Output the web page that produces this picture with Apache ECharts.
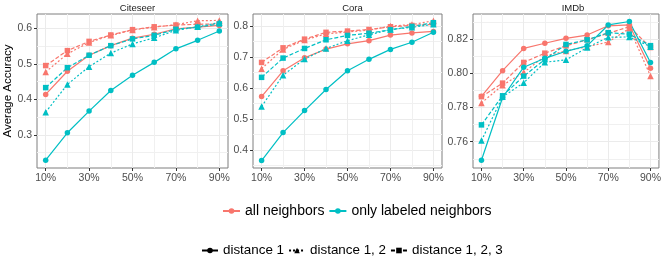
<!DOCTYPE html>
<html>
<head>
<meta charset="utf-8">
<script src="https://cdn.jsdelivr.net/npm/echarts@6/dist/echarts.min.js"></script>
<style>
html,body{margin:0;padding:0;background:#fff;}
#chart{width:664px;height:274px;}
</style>
</head>
<body>
<div id="chart"></div>
<script>
// ---------- data ----------
const xPercent = [10, 20, 30, 40, 50, 60, 70, 80, 90];
const xTickValues = [10, 30, 50, 70, 90];
const panelTitles = ['Citeseer', 'Cora', 'IMDb'];
const groupNames = ['all neighbors', 'only labeled neighbors'];
const distanceNames = ['distance 1', 'distance 1, 2', 'distance 1, 2, 3'];

const citeseerYTicks = [0.3, 0.4, 0.5, 0.6];
const coraYTicks = [0.4, 0.5, 0.6, 0.7, 0.8];
const imdbYTicks = [0.76, 0.78, 0.80, 0.82];

// Citeseer
const citeseerAllD1   = [0.414, 0.479, 0.524, 0.551, 0.572, 0.583, 0.598, 0.603, 0.608];
const citeseerAllD12  = [0.477, 0.528, 0.560, 0.580, 0.595, 0.603, 0.610, 0.621, 0.622];
const citeseerAllD123 = [0.495, 0.537, 0.563, 0.581, 0.596, 0.604, 0.609, 0.611, 0.612];
const citeseerLabD1   = [0.229, 0.306, 0.367, 0.425, 0.468, 0.504, 0.542, 0.566, 0.592];
const citeseerLabD12  = [0.364, 0.442, 0.492, 0.530, 0.556, 0.573, 0.594, 0.604, 0.616];
const citeseerLabD123 = [0.433, 0.489, 0.524, 0.551, 0.570, 0.580, 0.597, 0.603, 0.612];
// Cora
const coraAllD1   = [0.572, 0.655, 0.697, 0.725, 0.742, 0.752, 0.770, 0.777, 0.782];
const coraAllD12  = [0.662, 0.724, 0.754, 0.774, 0.780, 0.786, 0.799, 0.804, 0.816];
const coraAllD123 = [0.682, 0.729, 0.757, 0.779, 0.783, 0.788, 0.797, 0.801, 0.805];
const coraLabD1   = [0.366, 0.456, 0.527, 0.595, 0.655, 0.692, 0.724, 0.747, 0.779];
const coraLabD12  = [0.540, 0.641, 0.693, 0.727, 0.752, 0.771, 0.788, 0.795, 0.805];
const coraLabD123 = [0.634, 0.696, 0.727, 0.755, 0.769, 0.776, 0.787, 0.798, 0.810];
// IMDb
const imdbAllD1   = [0.7865, 0.8015, 0.8145, 0.8175, 0.8204, 0.8223, 0.8277, 0.8282, 0.8029];
const imdbAllD12  = [0.7826, 0.7930, 0.8005, 0.8100, 0.8130, 0.8155, 0.8182, 0.8262, 0.7984];
const imdbAllD123 = [0.7863, 0.7942, 0.8063, 0.8117, 0.8160, 0.8195, 0.8233, 0.8272, 0.8150];
const imdbLabD1   = [0.7491, 0.7858, 0.8035, 0.8087, 0.8128, 0.8160, 0.8282, 0.8302, 0.8062];
const imdbLabD12  = [0.7606, 0.7862, 0.7944, 0.8064, 0.8078, 0.8150, 0.8210, 0.8212, 0.8155];
const imdbLabD123 = [0.7698, 0.7868, 0.7983, 0.8080, 0.8168, 0.8195, 0.8237, 0.8228, 0.8161];

// ---------- styling / layout ----------
const FONT = 'Liberation Sans, Arial, Helvetica, sans-serif';
const colors = ['#F8766D', '#00BFC4'];
const symbols = ['circle', 'triangle', 'rect'];
const symbolSizes = [5.5, 6.5, 5.5];
const dashes = ['solid', [2, 2], [4, 2]];
const LW = 1.2;

const panels = [
  {left: 37, width: 191, ymin: 0.207, ymax: 0.640, ticks: citeseerYTicks, minor: [0.25, 0.35, 0.45, 0.55], dec: 1,
   data: [[citeseerAllD1, citeseerAllD12, citeseerAllD123], [citeseerLabD1, citeseerLabD12, citeseerLabD123]]},
  {left: 253, width: 189, ymin: 0.342, ymax: 0.838, ticks: coraYTicks, minor: [0.35, 0.45, 0.55, 0.65, 0.75], dec: 1,
   data: [[coraAllD1, coraAllD12, coraAllD123], [coraLabD1, coraLabD12, coraLabD123]]},
  {left: 473, width: 190, ymin: 0.7446, ymax: 0.8346, ticks: imdbYTicks, minor: [0.75, 0.77, 0.79, 0.81, 0.83], dec: 2,
   data: [[imdbAllD1, imdbAllD12, imdbAllD123], [imdbLabD1, imdbLabD12, imdbLabD123]]}
];
const TOP = 14, HEIGHT = 154;
const XMIN = 6, XMAX = 94;

const grid = [], xAxis = [], yAxis = [], series = [], title = [];
const labelStyle = {color: '#4D4D4D', fontSize: 10.5, fontFamily: FONT};

panels.forEach((p, i) => {
  grid.push({left: p.left, top: TOP, width: p.width, height: HEIGHT, show: true,
    borderColor: '#7F7F7F', borderWidth: 1, backgroundColor: 'transparent', containLabel: false});
  title.push({text: panelTitles[i], left: p.left + p.width / 2, top: -2, textAlign: 'center',
    textStyle: {fontSize: 9.5, fontWeight: 'normal', color: '#1A1A1A', fontFamily: FONT}});
  // major x axis
  xAxis.push({type: 'value', gridIndex: i, min: XMIN, max: XMAX, position: 'bottom',
    axisLine: {show: false},
    axisTick: {show: true, inside: false, length: 3, customValues: xTickValues, lineStyle: {color: '#333', width: 1}},
    axisLabel: {show: true, margin: 5, customValues: xTickValues, formatter: v => v + '%', ...labelStyle},
    splitLine: {show: true, lineStyle: {color: '#EBEBEB', width: 1}}
  });
  // minor x axis (grid lines only)
  xAxis.push({type: 'value', gridIndex: i, min: XMIN, max: XMAX, position: 'bottom',
    axisLine: {show: false}, axisLabel: {show: false},
    axisTick: {show: false, customValues: [20, 40, 60, 80]},
    splitLine: {show: true, lineStyle: {color: '#F0F0F0', width: 1}}
  });
  yAxis.push({type: 'value', gridIndex: i, min: p.ymin, max: p.ymax, position: 'left',
    axisLine: {show: false},
    axisTick: {show: true, inside: false, length: 3, customValues: p.ticks, lineStyle: {color: '#333', width: 1}},
    axisLabel: {show: true, margin: 5, customValues: p.ticks, formatter: v => v.toFixed(p.dec), ...labelStyle},
    splitLine: {show: true, lineStyle: {color: '#EBEBEB', width: 1}},
    name: i === 0 ? 'Average Accuracy' : '', nameLocation: 'middle', nameGap: 16,
    nameTextStyle: {fontSize: 11.5, color: '#000', fontFamily: FONT}
  });
  yAxis.push({type: 'value', gridIndex: i, min: p.ymin, max: p.ymax, position: 'left',
    axisLine: {show: false}, axisLabel: {show: false},
    axisTick: {show: false, customValues: p.minor},
    splitLine: {show: true, lineStyle: {color: '#F0F0F0', width: 1}}
  });
  p.data.forEach((grp, g) => {
    grp.forEach((arr, d) => {
      series.push({
        type: 'line', name: panelTitles[i] + ' ' + groupNames[g] + ' ' + distanceNames[d],
        xAxisIndex: 2 * i, yAxisIndex: 2 * i,
        data: xPercent.map((x, k) => [x, arr[k]]),
        symbol: symbols[d], symbolSize: symbolSizes[d], showSymbol: true,
        itemStyle: {color: colors[g]},
        lineStyle: {color: colors[g], width: LW, type: dashes[d]},
        silent: true, animation: false, clip: false
      });
    });
  });
});

// dummy series for legends
groupNames.forEach((n, g) => {
  series.push({type: 'line', name: n, xAxisIndex: 0, yAxisIndex: 0, data: [],
    symbol: 'circle', itemStyle: {color: colors[g]}, lineStyle: {color: colors[g], width: LW}});
});
distanceNames.forEach((n, d) => {
  series.push({type: 'line', name: n, xAxisIndex: 0, yAxisIndex: 0, data: [],
    symbol: symbols[d], itemStyle: {color: '#000'}, lineStyle: {color: '#000', width: LW, type: dashes[d]}});
});

const legend = [
  {data: groupNames, left: 217, top: 199, itemWidth: 17, itemHeight: 7, itemGap: 4, selectedMode: false,
   textStyle: {fontSize: 14, color: '#000', fontFamily: FONT}},
  {data: distanceNames, left: 196, top: 239, itemWidth: 16, itemHeight: 7, itemGap: 4, selectedMode: false,
   textStyle: {fontSize: 13.4, color: '#000', fontFamily: FONT}}
];

const chart = echarts.init(document.getElementById('chart'), null, {renderer: 'canvas'});
chart.setOption({animation: false, backgroundColor: '#fff', title, grid, xAxis, yAxis, series, legend});
</script>
</body>
</html>
